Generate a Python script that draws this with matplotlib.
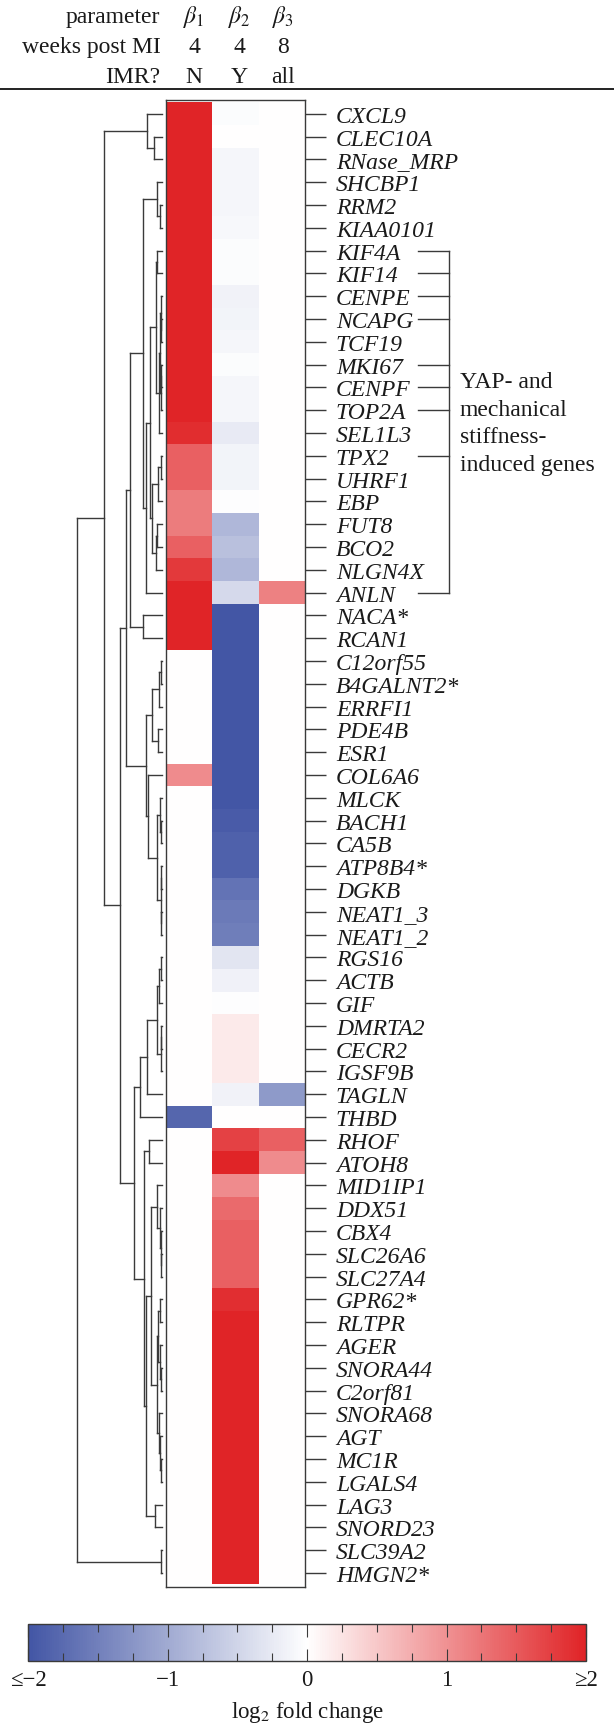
import numpy as np
import matplotlib.pyplot as plt
import matplotlib.cm as cm
import matplotlib.transforms as mtransforms
from matplotlib.colors import LinearSegmentedColormap, Normalize
from matplotlib.ticker import MultipleLocator

plt.rcParams['font.family'] = ['Liberation Serif', 'DejaVu Serif']
plt.rcParams['mathtext.fontset'] = 'stix'

# --- data -------------------------------------------------------------
genes = ['CXCL9', 'CLEC10A', 'RNase_MRP', 'SHCBP1', 'RRM2', 'KIAA0101',
         'KIF4A', 'KIF14', 'CENPE', 'NCAPG', 'TCF19', 'MKI67', 'CENPF',
         'TOP2A', 'SEL1L3', 'TPX2', 'UHRF1', 'EBP', 'FUT8', 'BCO2', 'NLGN4X',
         'ANLN', 'NACA*', 'RCAN1', 'C12orf55', 'B4GALNT2*', 'ERRFI1', 'PDE4B',
         'ESR1', 'COL6A6', 'MLCK', 'BACH1', 'CA5B', 'ATP8B4*', 'DGKB',
         'NEAT1_3', 'NEAT1_2', 'RGS16', 'ACTB', 'GIF', 'DMRTA2', 'CECR2',
         'IGSF9B', 'TAGLN', 'THBD', 'RHOF', 'ATOH8', 'MID1IP1', 'DDX51',
         'CBX4', 'SLC26A6', 'SLC27A4', 'GPR62*', 'RLTPR', 'AGER', 'SNORA44',
         'C2orf81', 'SNORA68', 'AGT', 'MC1R', 'LGALS4', 'LAG3', 'SNORD23',
         'SLC39A2', 'HMGN2*']

# log2 fold change per parameter (clipped to +-2 in the figure)
beta1 = ([2.0] * 14 + [1.92, 1.45, 1.45, 1.2, 1.2, 1.45, 1.8, 2.0, 2.0, 2.0]
         + [0.0] * 5 + [1.05] + [0.0] * 14 + [-1.8] + [0.0] * 20)
beta2 = ([-0.04, 0.0, -0.1, -0.1, -0.1, -0.08, -0.04, -0.04, -0.15, -0.13,
          -0.1, -0.04, -0.1, -0.1, -0.25, -0.13, -0.13, -0.03, -0.85, -0.75,
          -0.85, -0.45] + [-2.0] * 9
         + [-1.93, -1.87, -1.87, -1.65, -1.57, -1.53, -0.3, -0.17, -0.02,
            0.2, 0.2, 0.2, -0.15, 0.0, 1.72, 2.0, 1.05, 1.35, 1.45, 1.45, 1.45,
            1.9] + [2.0] * 12)
beta3 = ([0.0] * 21 + [1.15] + [0.0] * 21 + [-1.2, 0.0, 1.45, 1.05]
         + [0.0] * 18)

param_labels = [r'$\beta_1$', r'$\beta_2$', r'$\beta_3$']
weeks_labels = ['4', '4', '8']
imr_labels = ['N', 'Y', 'all']
header_names = ['parameter', 'weeks post MI', 'IMR?']

# hierarchical clustering of the genes: (node, left, right, height)
# ints are leaf rows (0-based), strings are earlier nodes
merges = [
    ('c2_3', 1, 2, 0.091), ('C1', 0, 'c2_3', 0.18),
    ('c5_6', 4, 5, 0.024), ('I', 3, 'c5_6', 0.055),
    ('c7_8', 6, 7, 0.055),
    ('c10_11', 9, 10, 0.008), ('A1', 8, 'c10_11', 0.015),
    ('c12_13', 11, 12, 0.008), ('A2', 'c12_13', 13, 0.015),
    ('X', 'A1', 'A2', 0.024), ('N', 'X', 14, 0.039),
    ('M', 'c7_8', 'N', 0.074),
    ('c16_17', 15, 16, 0.012), ('c16_18', 'c16_17', 17, 0.047),
    ('c19_20', 18, 19, 0.055), ('c19_21', 'c19_20', 20, 0.074),
    ('L', 'c16_18', 'c19_21', 0.114),
    ('K', 'M', 'L', 0.138), ('J', 'K', 21, 0.192),
    ('G', 'I', 'J', 0.227), ('H', 22, 23, 0.22), ('F', 'G', 'H', 0.376),
    ('c25_26', 24, 25, 0.012), ('c25_27', 'c25_26', 26, 0.039),
    ('c28_29', 27, 28, 0.047), ('V', 'c25_27', 'c28_29', 0.121),
    ('c32_33', 31, 32, 0.008), ('Z1', 30, 'c32_33', 0.027),
    ('c34_35', 33, 34, 0.006), ('c36_37', 35, 36, 0.006),
    ('Z2', 'c34_35', 'c36_37', 0.015), ('Y', 'Z1', 'Z2', 0.062),
    ('W', 29, 'Y', 0.168), ('U', 'V', 'W', 0.192),
    ('D', 'F', 'U', 0.429),
    ('c38_39', 37, 38, 0.008), ('S', 'c38_39', 39, 0.035),
    ('c41_42', 40, 41, 0.006), ('T', 'c41_42', 42, 0.012),
    ('R', 'S', 'T', 0.059), ('Q', 'R', 43, 0.176), ('O', 'Q', 44, 0.259),
    ('c46_47', 45, 46, 0.156),
    ('c51_52', 50, 51, 0.006), ('c50_52', 49, 'c51_52', 0.012),
    ('R2', 48, 'c50_52', 0.024), ('CC', 47, 'R2', 0.062),
    ('c53_54', 52, 53, 0.018), ('c56_57', 55, 56, 0.012),
    ('c55_57', 54, 'c56_57', 0.029), ('g1', 'c53_54', 'c55_57', 0.047),
    ('c60_61', 59, 60, 0.012), ('c59_61', 58, 'c60_61', 0.024),
    ('g2', 57, 'c59_61', 0.041), ('DD', 'g1', 'g2', 0.062),
    ('BB', 'CC', 'DD', 0.133), ('c62_63', 61, 62, 0.079),
    ('AA', 'BB', 'c62_63', 0.188), ('P', 'c46_47', 'AA', 0.212),
    ('E', 'O', 'P', 0.333), ('B', 'D', 'E', 0.494),
    ('A', 'C1', 'B', 0.682), ('c64_65', 63, 64, 0.012),
    ('root', 'A', 'c64_65', 1.0),
]

yap_rows = ['KIF4A', 'KIF14', 'CENPE', 'NCAPG', 'MKI67', 'CENPF', 'TOP2A',
            'TPX2', 'ANLN']
yap_text = ['YAP- and', 'mechanical', 'stiffness-', 'induced genes']

cb_ticks = [-2, -1, 0, 1, 2]
cb_labels = ['\u2264\u22122', '\u22121', '0', '1', '\u22652']

# --- layout ------------------------------------------------------------
W, H = 614, 1733
fig = plt.figure(figsize=(W / 100, H / 100), dpi=100)
ink = '#1a1a1a'
lc = '#3a3a3a'
fs = 17


def box(x0, y0, x1, y1):
    return [x0 / W, 1 - y1 / H, (x1 - x0) / W, (y1 - y0) / H]


# overlay in pixel units for header, rule and bracket
ov = fig.add_axes([0, 0, 1, 1])
ov.set_xlim(0, W)
ov.set_ylim(H, 0)
ov.axis('off')

cmap = LinearSegmentedColormap.from_list('fc', ['#4356a5', '#ffffff', '#e02427'])
n = len(genes)
pad = 0.115

# heatmap
hm = fig.add_axes(box(165.7, 100.7, 305.3, 1588))
data = np.column_stack([beta1, beta2, beta3])
hm.pcolormesh(np.arange(4) - 0.5, np.arange(n + 1) - 0.5, data, cmap=cmap,
              vmin=-2, vmax=2, antialiased=False, linewidth=0)
hm.set_xlim(-0.5, 2.5)
hm.set_ylim(n - 0.5 + pad, -0.5 - pad)
hm.set_xticks([])
hm.yaxis.tick_right()
hm.set_yticks(range(n))
hm.set_yticklabels(genes, style='italic', fontsize=fs, color=ink)
hm.tick_params(axis='y', length=15, width=1.0, pad=7, color=lc)
for s in hm.spines.values():
    s.set_color(lc)
    s.set_linewidth(1.0)

# dendrogram
dn = fig.add_axes(box(0, 100.7, 162, 1588))
dn.set_xlim(162 / 85, 0)
dn.set_ylim(n - 0.5 + pad, -0.5 - pad)
dn.axis('off')
pos = {i: float(i) for i in range(n)}
ht = {i: 0.0 for i in range(n)}
for name, a, b, h in merges:
    ya, yb = pos[a], pos[b]
    dn.plot([ht[a], h], [ya, ya], color=lc, lw=1.0, clip_on=False)
    dn.plot([ht[b], h], [yb, yb], color=lc, lw=1.0, clip_on=False)
    dn.plot([h, h], [ya, yb], color=lc, lw=1.0, clip_on=False)
    pos[name] = (ya + yb) / 2
    ht[name] = h

# header
col_x = [194, 239.5, 283]
baselines = [23, 53, 83]
for yb, name, vals in zip(baselines, header_names,
                          [param_labels, weeks_labels, imr_labels]):
    ov.text(160.5, yb, name, ha='right', va='baseline', fontsize=fs, color=ink)
    for x, v in zip(col_x, vals):
        ov.text(x, yb, v, ha='center', va='baseline', fontsize=fs, color=ink)
ov.plot([0, W], [90, 90], color='#111111', lw=1.3)

# bracket for YAP genes
tr = mtransforms.blended_transform_factory(ov.transData, hm.transData)
rows = [genes.index(g) for g in yap_rows]
for r in rows:
    ov.plot([418, 449], [r, r], color=lc, lw=1.0, transform=tr)
ov.plot([449, 449], [min(rows), max(rows)], color=lc, lw=1.0, transform=tr)
for i, t in enumerate(yap_text):
    ov.text(460, 387.7 + i * 27.8, t, ha='left', va='baseline', fontsize=fs,
            color=ink)

# colorbar
cax = fig.add_axes(box(28.2, 1625, 586, 1662))
cb = fig.colorbar(cm.ScalarMappable(norm=Normalize(-2, 2), cmap=cmap),
                  cax=cax, orientation='horizontal')
cb.set_ticks(cb_ticks)
cb.set_ticklabels(cb_labels)
cax.xaxis.set_minor_locator(MultipleLocator(0.25))
cax.tick_params(which='both', direction='in', top=True, bottom=True,
                color=lc, width=0.8)
cax.tick_params(which='major', length=9, pad=6, labelsize=16.5, labelcolor=ink)
cax.tick_params(which='minor', length=6)
cb.outline.set_linewidth(1.0)
cb.outline.set_edgecolor(lc)
fig.text(307.8 / W, 1 - 1713 / H, 'log$_2$ fold change', ha='center',
         va='center', fontsize=16.5, color=ink)

fig.savefig('out.png', dpi=100)
